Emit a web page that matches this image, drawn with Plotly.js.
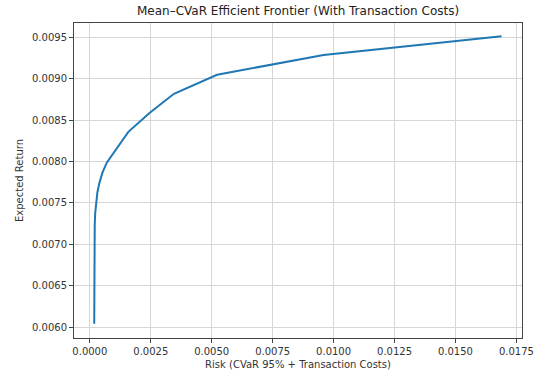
<!DOCTYPE html>
<html>
<head>
<meta charset="utf-8">
<script src="https://cdn.plot.ly/plotly-3.0.1.min.js"></script>
<style>html,body{margin:0;padding:0;background:#fff;}#chart{width:541px;height:377px;}</style>
</head>
<body>
<div id="chart"></div>
<script>
const riskValues = [0.00018, 0.00018, 0.00019, 0.00020, 0.00022, 0.00027, 0.00031, 0.00039, 0.00052, 0.00070, 0.00112, 0.00158, 0.00246, 0.00345, 0.00522, 0.00959, 0.01689];
const returnValues = [0.00604, 0.00660, 0.00706, 0.00723, 0.00738, 0.00750, 0.00763, 0.00774, 0.00787, 0.00799, 0.00817, 0.00836, 0.00859, 0.00882, 0.00905, 0.00929, 0.009516];
const xTickVals = [0.0000, 0.0025, 0.0050, 0.0075, 0.0100, 0.0125, 0.0150, 0.0175];
const xTickText = ["0.0000", "0.0025", "0.0050", "0.0075", "0.0100", "0.0125", "0.0150", "0.0175"];
const yTickVals = [0.0060, 0.0065, 0.0070, 0.0075, 0.0080, 0.0085, 0.0090, 0.0095];
const yTickText = ["0.0060", "0.0065", "0.0070", "0.0075", "0.0080", "0.0085", "0.0090", "0.0095"];

const font = "DejaVu Sans, sans-serif";
const axisCommon = {
  showline: true, mirror: true, linecolor: "#444", linewidth: 1,
  ticks: "outside", ticklen: 4, tickwidth: 1, tickcolor: "#444",
  showgrid: true, gridcolor: "#d6d6d6", gridwidth: 1,
  zeroline: false, tickfont: {family: font, size: 10, color: "#333"}
};
Plotly.newPlot("chart", [{
  x: riskValues, y: returnValues, type: "scatter", mode: "lines",
  line: {color: "#1f77b4", width: 2}, hoverinfo: "none"
}], {
  width: 541, height: 377,
  margin: {l: 74, r: 19, t: 23, b: 39},
  paper_bgcolor: "#fff", plot_bgcolor: "#fff",
  showlegend: false,
  title: {text: "Mean\u2013CVaR Efficient Frontier (With Transaction Costs)", font: {family: font, size: 12, color: "#222"}, x: 0.551, xanchor: "center", y: 0.972, yanchor: "middle"},
  xaxis: Object.assign({}, axisCommon, {
    range: [-0.00065, 0.01773], tickvals: xTickVals, ticktext: xTickText,
    title: {text: "Risk (CVaR 95% + Transaction Costs)", font: {family: font, size: 10, color: "#333"}, standoff: 4}
  }),
  yaxis: Object.assign({}, axisCommon, {
    range: [0.005867, 0.009676], tickvals: yTickVals, ticktext: yTickText,
    title: {text: "Expected Return", font: {family: font, size: 10, color: "#333"}, standoff: 6}
  })
}, {displayModeBar: false, staticPlot: true});
</script>
</body>
</html>
